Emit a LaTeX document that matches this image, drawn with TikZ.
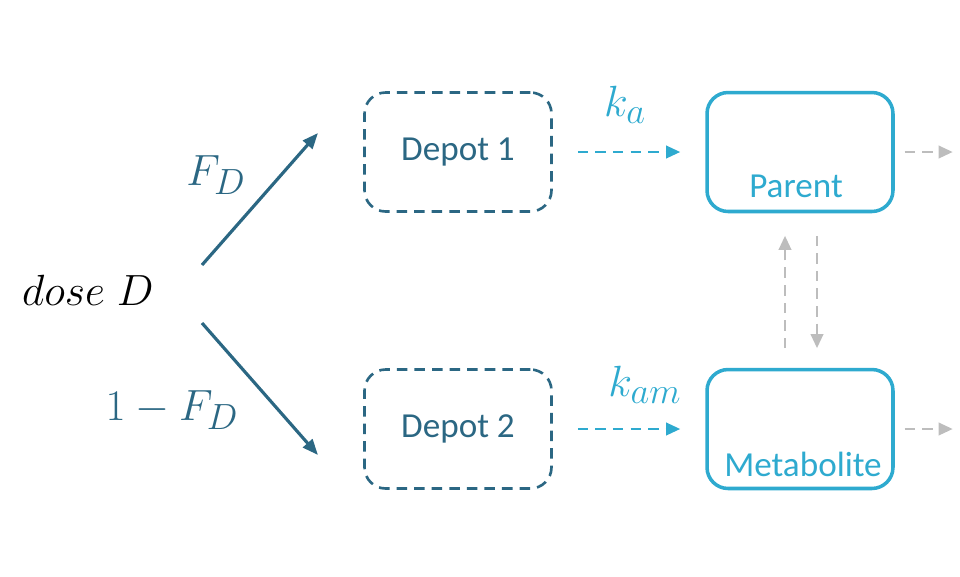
\documentclass[tikz,border=0pt]{standalone}
\usepackage{fontspec}
\setsansfont{Carlito}
\usetikzlibrary{arrows.meta,positioning}
\definecolor{darkteal}{HTML}{2B6783}
\definecolor{lightblue}{HTML}{2EAACF}
\definecolor{greyarrow}{HTML}{BDBDBD}
\begin{document}
\begin{tikzpicture}[x=0.02cm,y=-0.02cm,
    depot/.style={draw=darkteal, dashed, line width=1.5pt, dash pattern=on 6pt off 4pt, rounded corners=12pt, minimum width=3.74cm, minimum height=2.38cm},
    comp/.style={draw=lightblue, line width=2pt, rounded corners=12pt, minimum width=3.72cm, minimum height=2.38cm},
    dose/.style={-{Triangle[length=9pt,width=7pt]}, darkteal, line width=1.8pt},
    rate/.style={-{Triangle[length=8pt,width=7pt]}, lightblue, line width=1.5pt, dash pattern=on 6pt off 4pt},
    grey/.style={-{Triangle[length=8pt,width=7pt]}, greyarrow, line width=1.5pt, dash pattern=on 6pt off 4pt}]
    \useasboundingbox (0,0) rectangle (960,576);

    \node[font=\fontsize{31}{34}\selectfont] (dose) at (88,290) {$dose\;D$};

    \coordinate (s1) at (202,265);
    \coordinate (s2) at (202,323);
    \node[depot] (depot1) at (458,152) {};
    \node[depot] (depot2) at (458,429) {};
    \node[font=\sffamily\fontsize{20}{24}\selectfont, text=darkteal] at (depot1) {Depot 1};
    \node[font=\sffamily\fontsize{20}{24}\selectfont, text=darkteal] at (depot2) {Depot 2};

    \coordinate (e1) at (318,133);
    \coordinate (e2) at (318,455);
    \draw[dose] (s1) -- (e1);
    \draw[dose] (s2) -- (e2);
    \node[text=darkteal, font=\fontsize{28}{32}\selectfont] at (216,175) {$F_D$};
    \node[text=darkteal, font=\fontsize{28}{32}\selectfont] at (172,410) {$1-F_D$};

    \node[comp] (parent) at (800,152) {};
    \node[comp] (metab) at (800,429) {};
    \node[font=\sffamily\fontsize{20}{24}\selectfont, text=lightblue] at (796,186) {Parent};
    \node[font=\sffamily\fontsize{20}{24}\selectfont, text=lightblue] at (803,464) {Metabolite};

    \draw[rate] ([xshift=0.5cm]depot1.east) -- ([xshift=-0.5cm]parent.west);
    \draw[rate] ([xshift=0.5cm]depot2.east) -- ([xshift=-0.5cm]metab.west);
    \node[text=lightblue, font=\fontsize{31}{34}\selectfont] at (625,105) {$k_a$};
    \node[text=lightblue, font=\fontsize{31}{34}\selectfont] at (645,385) {$k_{am}$};

    % outflow and interconversion
    \draw[grey] ([xshift=0.2cm]parent.east) -- ++(48,0);
    \draw[grey] ([xshift=0.2cm]metab.east) -- ++(48,0);
    \draw[grey] ([xshift=-0.3cm,yshift=-2.7cm]parent.south) -- ([xshift=-0.3cm,yshift=-0.45cm]parent.south);
    \draw[grey] ([xshift=0.34cm,yshift=-0.45cm]parent.south) -- ([xshift=0.34cm,yshift=-2.7cm]parent.south);
\end{tikzpicture}
\end{document}
